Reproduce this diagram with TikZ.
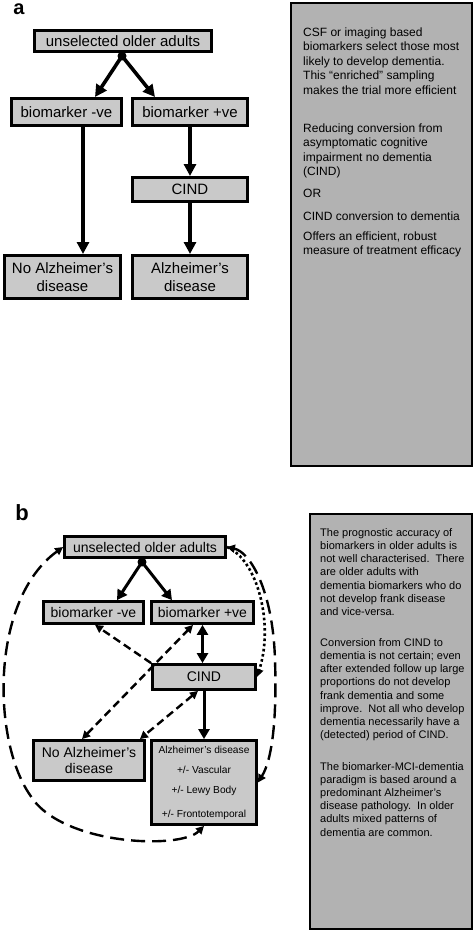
\documentclass[tikz,border=0pt]{standalone}
\usepackage{fontspec}
\setmainfont{Liberation Sans}
\usetikzlibrary{arrows.meta}
\definecolor{boxgrey}{gray}{0.79}
\definecolor{notegrey}{gray}{0.70}

\begin{document}
\begin{tikzpicture}[
            x=1pt, y=-1pt,
            box/.style={draw, line width=3pt, fill=boxgrey, inner sep=0pt, align=center},
            bigbox/.style={box, font=\fontsize{15}{18.5}\selectfont},
            smallbox/.style={box, line width=2.8pt, font=\fontsize{14}{16.5}\selectfont},
            note/.style={draw, line width=2.2pt, fill=notegrey, inner sep=0pt},
            notetext/.style={anchor=north west, align=left, inner sep=0pt},
            junction/.style={circle, fill, inner sep=0pt, minimum size=9pt},
            panel/.style={font=\bfseries\fontsize{20}{20}\selectfont, inner sep=0pt},
            heavy/.style={line width=3.6pt, >={Triangle[length=12pt,width=12pt]}},
            medium/.style={line width=3pt, >={Triangle[length=10pt,width=11pt]}},
            dashlink/.style={line width=2.4pt, dash pattern=on 8pt off 4.5pt, >={Triangle[length=8pt,width=8pt]}},
            looplink/.style={line width=2.4pt, dash pattern=on 14pt off 7pt, >={Triangle[length=8pt,width=8pt]}},
            dotlink/.style={line width=2.6pt, dash pattern=on 2.6pt off 2.6pt, >={Triangle[length=8pt,width=8pt]}}
        ]
        \path[use as bounding box, fill=white] (0,0) rectangle (475,932);

        \node[panel] (labelA) at (19,9) {a};
        \node[bigbox, minimum width=177pt, minimum height=21pt] (topA) at (123,41) {unselected older adults};
        \node[junction] (dotA) at (122,56) {};
        \node[bigbox, minimum width=110pt, minimum height=27pt] (negA) at (66.5,112) {biomarker -ve};
        \node[bigbox, minimum width=115pt, minimum height=27pt] (posA) at (190,112) {biomarker +ve};
        \node[bigbox, minimum width=115pt, minimum height=24pt] (cindA) at (190,189.5) {CIND};
        \node[bigbox, minimum width=116pt, minimum height=43pt] (noadA) at (62.5,277) {No Alzheimer's\\disease};
        \node[bigbox, minimum width=115pt, minimum height=43pt] (adA) at (190,277) {Alzheimer's\\disease};

        \draw[heavy, ->] (dotA.center) -- ([xshift=28.5pt]negA.north);
        \draw[heavy, ->] (dotA.center) -- ([xshift=-35pt]posA.north);
        \draw[heavy, ->] ([xshift=16.5pt]negA.south) -- ([xshift=16.5pt]negA.south |- noadA.north);
        \draw[heavy, ->] (posA.south) -- (cindA.north);
        \draw[heavy, ->] (cindA.south) -- (adA.north);

        \node[note, minimum width=181pt, minimum height=463pt] (noteA) at (381.5,234.5) {};
        \node[notetext, font=\fontsize{12}{14.5}\selectfont] (noteA1) at (303,27.4)
            {CSF or imaging based\\biomarkers select those most\\likely to develop dementia.\\This ``enriched'' sampling\\makes the trial more efficient};
        \node[notetext, font=\fontsize{12}{14.5}\selectfont] (noteA2) at (303,123.4)
            {Reducing conversion from\\asymptomatic cognitive\\impairment no dementia\\(CIND)};
        \node[notetext, font=\fontsize{12}{14.5}\selectfont] (noteA3) at (303,189.4) {OR};
        \node[notetext, font=\fontsize{12}{14.5}\selectfont] (noteA4) at (303,211.4) {CIND conversion to dementia};
        \node[notetext, font=\fontsize{12}{14.5}\selectfont] (noteA5) at (303,231.4)
            {Offers an efficient, robust\\measure of treatment efficacy};

        \node[panel, font=\bfseries\fontsize{22}{22}\selectfont] (labelB) at (22,513) {b};
        \node[smallbox, minimum width=161pt, minimum height=21pt] (topB) at (145,547) {unselected older adults};
        \node[junction] (dotB) at (142,562) {};
        \node[smallbox, minimum width=100pt, minimum height=22pt] (negB) at (93.5,612.5) {biomarker -ve};
        \node[smallbox, minimum width=102pt, minimum height=22pt] (posB) at (202.5,612.5) {biomarker +ve};
        \node[smallbox, minimum width=103pt, minimum height=25pt] (cindB) at (204,677) {CIND};
        \node[smallbox, minimum width=111pt, minimum height=40pt] (noadB) at (89,760.5) {No Alzheimer's\\disease};
        \node[smallbox, minimum width=105pt, minimum height=84pt, font=\fontsize{10.2}{20}\selectfont] (adB) at (204,782.5)
            {Alzheimer's disease\\+/- Vascular\\+/- Lewy Body\\[4pt]+/- Frontotemporal};

        \draw[medium, ->] (dotB.center) -- ([xshift=23.5pt]negB.north);
        \draw[medium, ->] (dotB.center) -- ([xshift=-30.5pt]posB.north);
        \draw[medium, <->] (posB.south) -- (posB.south |- cindB.north);
        \draw[medium, ->] (cindB.south) -- (cindB.south |- adB.north);

        \draw[dashlink, ->] (cindB.north west) -- ([xshift=1.5pt]negB.south);
        \draw[dashlink, <->] ([xshift=-7pt]noadB.north) -- ([xshift=-9.5pt]posB.south);
        \draw[dashlink, <->] ([xshift=-6pt]cindB.south) -- ([xshift=-6pt]noadB.north east);
        \draw[looplink, <->] (topB.west) .. controls (-10,600) and (-8,740) .. (30,795)
            .. controls (60,845) and (180,850) .. (adB.south);
        \draw[looplink, <->] (topB.east) .. controls (250,552) and (273,590) .. (275,660)
            .. controls (277,720) and (272,760) .. (adB.east);
        \draw[dotlink, ->] (topB.east) .. controls (258,560) and (274,625) .. (cindB.east);

        \node[note, minimum width=162pt, minimum height=415pt] (noteB) at (391,721.5) {};
        \node[notetext, font=\fontsize{11}{13.2}\selectfont] (noteB1) at (320,528.1)
            {The prognostic accuracy of\\biomarkers in older adults is\\not well characterised.\ \ There\\are older adults with\\dementia biomarkers who do\\not develop frank disease\\and vice-versa.};
        \node[notetext, font=\fontsize{11}{13.2}\selectfont] (noteB2) at (320,638.1)
            {Conversion from CIND to\\dementia is not certain; even\\after extended follow up large\\proportions do not develop\\frank dementia and some\\improve.\ \ Not all who develop\\dementia necessarily have a\\(detected) period of CIND.};
        \node[notetext, font=\fontsize{11}{13.2}\selectfont] (noteB3) at (320,762)
            {The biomarker-MCI-dementia\\paradigm is based around a\\predominant Alzheimer's\\disease pathology.\ \ In older\\adults mixed patterns of\\dementia are common.};
    \end{tikzpicture}
\end{document}
